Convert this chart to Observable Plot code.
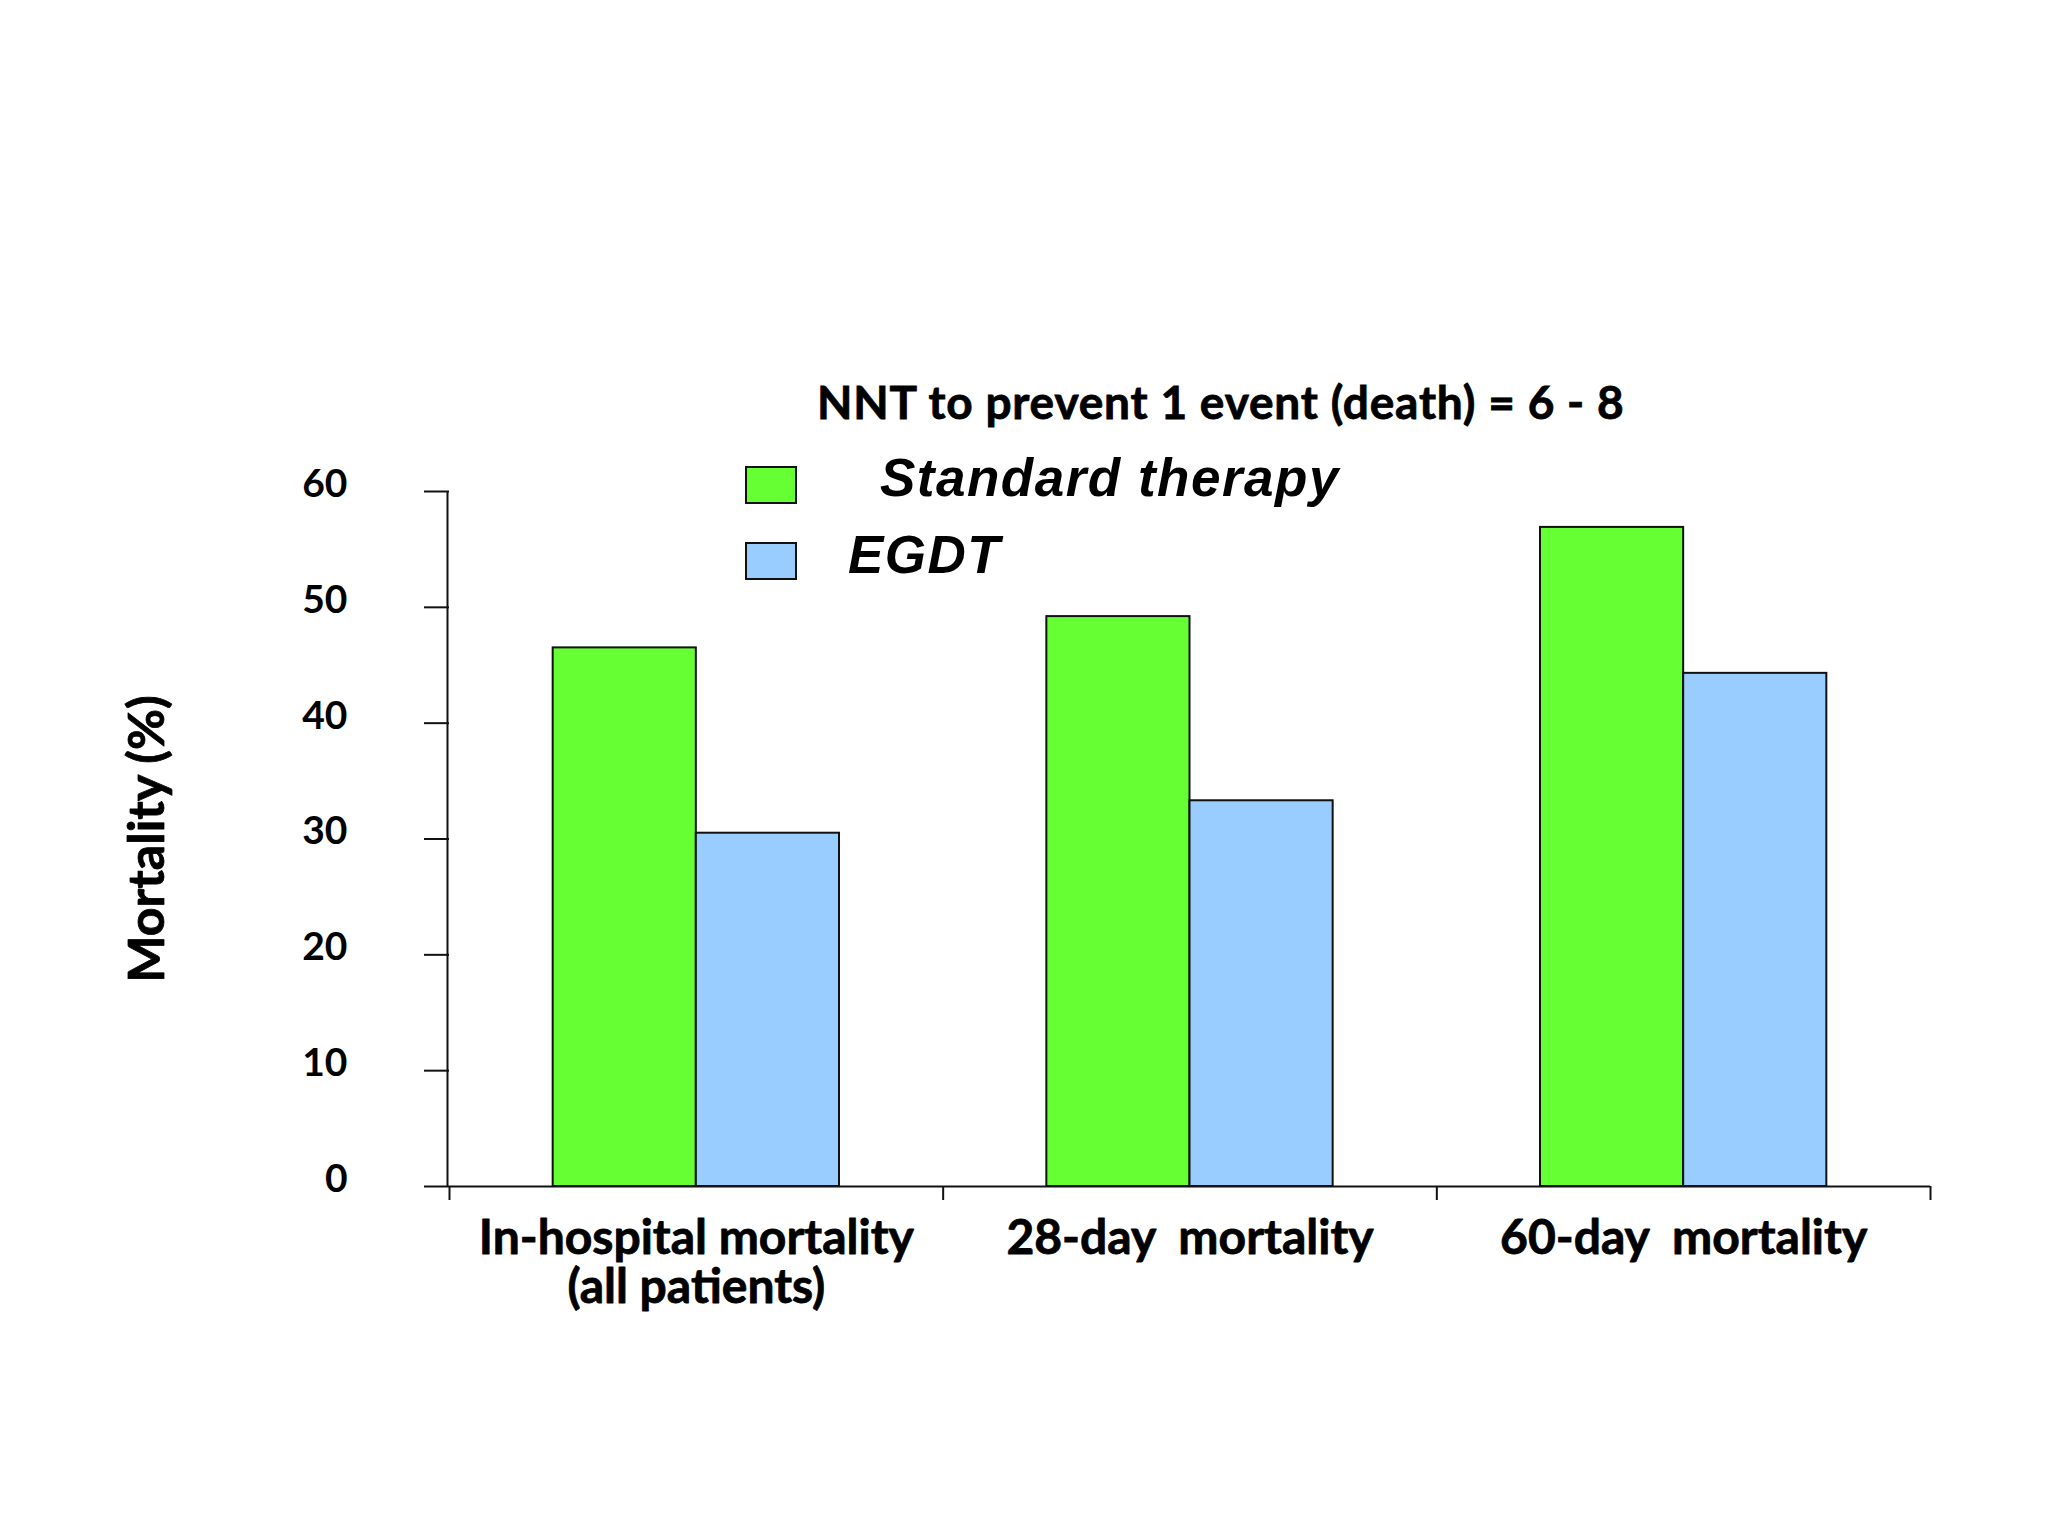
<!DOCTYPE html>
<html>
<head>
<meta charset="utf-8">
<script src="https://cdn.jsdelivr.net/npm/d3@7"></script>
<script src="https://cdn.jsdelivr.net/npm/@observablehq/plot@0.6"></script>
<style>
  html, body { margin: 0; padding: 0; background: #ffffff; }
  #wrap { position: relative; width: 2048px; height: 1536px; overflow: hidden; background: #ffffff; }
  #wrap svg { position: absolute; left: 0; top: 0; }
  #wrap svg text { white-space: pre; }
  .note { position: absolute; white-space: pre; line-height: 1; color: #000; }
  #title { left: 817px; top: 379px; font-family: Lato, sans-serif; font-weight: bold; font-size: 46px; letter-spacing: 0.8px; -webkit-text-stroke: 0.8px #000; }
  .sw { position: absolute; left: 745px; width: 52px; height: 38px; border: 2px solid #111; box-sizing: border-box; }
  .leg { font-family: "Liberation Sans", Arial, sans-serif; font-style: italic; font-weight: bold; font-size: 53px; letter-spacing: 1.5px; }
</style>
</head>
<body>
<div id="wrap"></div>
<script>
// ---- data ----
const categories = ["In-hospital mortality\n(all patients)", "28-day  mortality", "60-day  mortality"];
const seriesNames = ["Standard therapy", "EGDT"];
const standardTherapy = [46.5, 49.2, 56.9];
const egdt = [30.5, 33.3, 44.3];
const yTicks = [0, 10, 20, 30, 40, 50, 60];
const seriesColors = ["#66FF33", "#99CCFF"];
const titleText = "NNT to prevent 1 event (death) = 6 - 8";
const yLabel = "Mortality (%)";

// ---- layout helpers ----
const barWidth = 0.29; // fraction of a category slot
const seriesValues = [standardTherapy, egdt];
const rows = categories.flatMap((c, i) =>
  seriesNames.map((s, j) => ({
    category: c,
    series: s,
    value: seriesValues[j][i],
    x1: i + 0.5 + (j - 1) * barWidth,
    x2: i + 0.5 + j * barWidth
  }))
);

const textStyle = {fontWeight: "bold", fill: "#000", stroke: "#000", strokeWidth: 0.8};

const chart = Plot.plot({
  width: 2048,
  height: 1536,
  marginLeft: 449,
  marginRight: 118,
  marginTop: 491,
  marginBottom: 350,
  x: {domain: [0, categories.length], axis: null},
  y: {domain: [0, 60], axis: null},
  color: {domain: seriesNames, range: seriesColors},
  style: {fontFamily: "Lato, sans-serif", background: "transparent", color: "#000", overflow: "visible"},
  marks: [
    Plot.rect(rows, {x1: "x1", x2: "x2", y1: 0, y2: "value", fill: "series", stroke: "#111", strokeWidth: 2}),
    Plot.ruleY([0], {stroke: "#111", strokeWidth: 2}),
    Plot.ruleX([0], {y1: 0, y2: 60, stroke: "#111", strokeWidth: 2, dx: -2}),
    // y tick marks
    Plot.axisY({ticks: yTicks, tickSize: 25, tickFormat: () => "", label: null, strokeWidth: 2, stroke: "#111"}),
    // y tick labels
    Plot.axisY({ticks: yTicks, tickSize: 0, tickPadding: 102, label: null, fontSize: 39, dy: -7, ...textStyle}),
    // x boundary ticks
    Plot.axisX({ticks: d3.range(categories.length + 1), tickSize: 14, tickFormat: () => "", label: null, strokeWidth: 2, stroke: "#111"}),
    // category labels
    Plot.text(categories, {x: (d, i) => i + 0.5, y: 0, dy: 33, lineAnchor: "top", lineHeight: 1.02, fontSize: 48, ...textStyle}),
    // y axis title
    Plot.text([yLabel], {frameAnchor: "left", textAnchor: "middle", dx: -302, rotate: -90, fontSize: 50, ...textStyle})
  ]
});

const wrap = document.getElementById("wrap");
wrap.appendChild(chart);

// title + legend overlay
const t = document.createElement("div");
t.className = "note"; t.id = "title"; t.textContent = titleText;
wrap.appendChild(t);

const legendTops = [466, 542];
const legendTextPos = [{left: 880, top: 451}, {left: 848, top: 528}];
seriesNames.forEach((s, j) => {
  const sw = document.createElement("div");
  sw.className = "sw";
  sw.style.top = legendTops[j] + "px";
  sw.style.background = seriesColors[j];
  wrap.appendChild(sw);
  const lt = document.createElement("div");
  lt.className = "note leg";
  lt.style.left = legendTextPos[j].left + "px";
  lt.style.top = legendTextPos[j].top + "px";
  lt.textContent = s;
  wrap.appendChild(lt);
});
</script>
</body>
</html>
